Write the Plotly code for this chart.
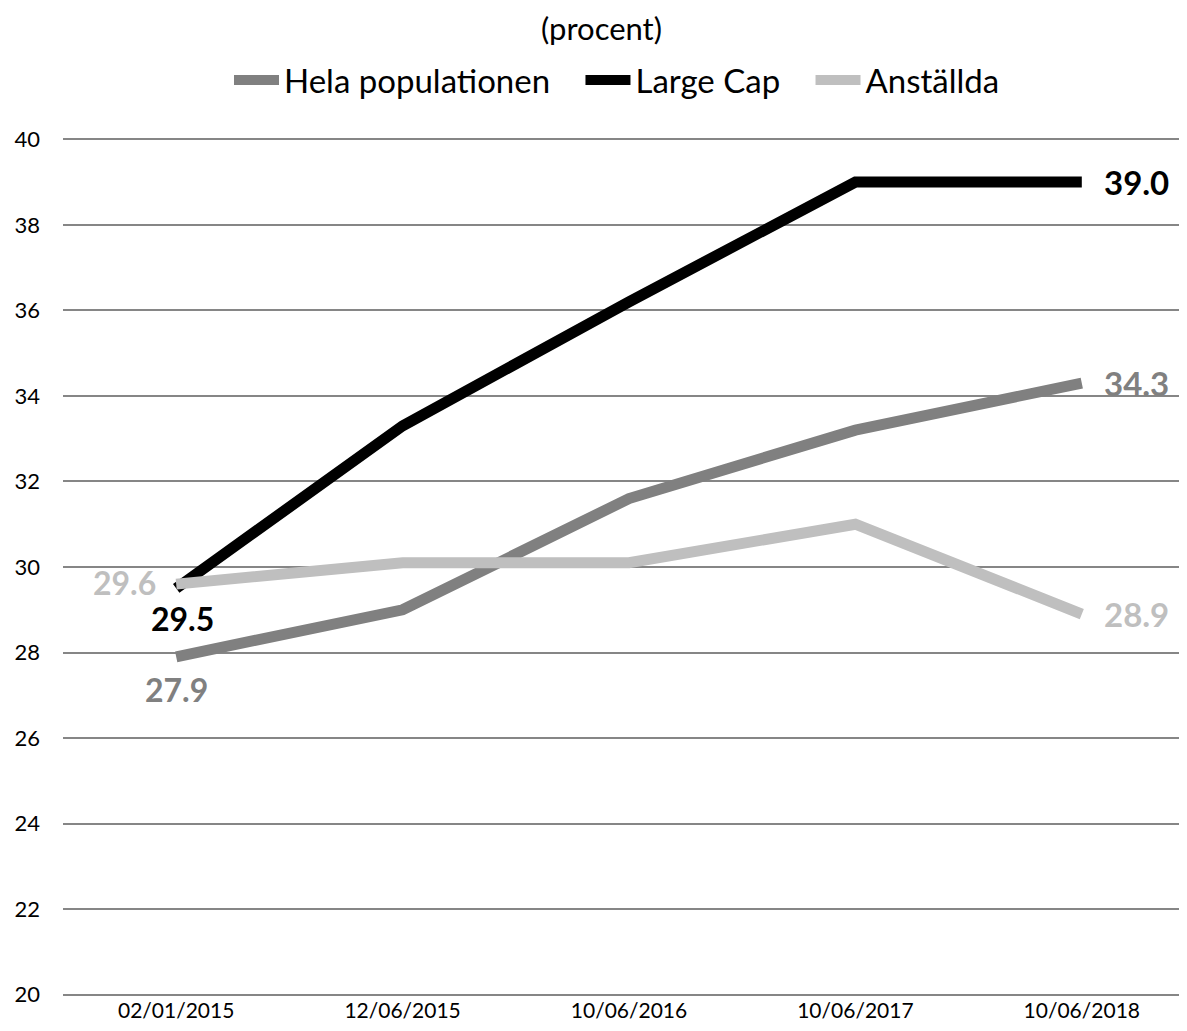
import plotly.graph_objects as go

categories = ["02/01/2015", "12/06/2015", "10/06/2016", "10/06/2017", "10/06/2018"]
hela = [27.9, 29.0, 31.6, 33.2, 34.3]
large_cap = [29.5, 33.3, 36.2, 39.0, 39.0]
anstallda = [29.6, 30.1, 30.1, 31.0, 28.9]
y_ticks = [20, 22, 24, 26, 28, 30, 32, 34, 36, 38, 40]

FONT = "Lato"
PAD = "\u00a0" * 3
series = [
    ("Hela populationen", hela, "#808080"),
    ("Large Cap", large_cap, "#000000"),
    ("Anställda", anstallda, "#bfbfbf"),
]

fig = go.Figure()
for i, (name, vals, col) in enumerate(series):
    fig.add_trace(go.Scatter(
        x=categories, y=vals, name=name + (PAD if i < len(series) - 1 else ""),
        mode="lines", line=dict(color=col, width=11),
    ))

first_cfg = {
    "Hela populationen": dict(xanchor="center", yanchor="top", xshift=0, yshift=-11),
    "Large Cap": dict(xanchor="center", yanchor="top", xshift=6, yshift=-9),
    "Anställda": dict(xanchor="right", yanchor="middle", xshift=-18, yshift=2),
}
for name, vals, col in series:
    cfg = first_cfg[name]
    fig.add_annotation(x=categories[0], y=vals[0], text=f"<b>{vals[0]:.1f}</b>",
                       showarrow=False, font=dict(family=FONT, size=32, color=col),
                       xanchor=cfg["xanchor"], yanchor=cfg["yanchor"],
                       xshift=cfg["xshift"], yshift=cfg["yshift"])
    fig.add_annotation(x=categories[-1], y=vals[-1], text=f"<b>{vals[-1]:.1f}</b>",
                       showarrow=False, font=dict(family=FONT, size=33, color=col),
                       xanchor="left", yanchor="middle", xshift=20, yshift=0)

fig.update_layout(
    width=1187, height=1031,
    margin=dict(l=55, r=0, t=130, b=43),
    paper_bgcolor="white", plot_bgcolor="white",
    font=dict(family=FONT, size=21, color="#000000"),
    title=dict(text="(procent)", x=0.5, xanchor="center", y=0.9796, yanchor="middle",
               font=dict(family=FONT, size=31, color="#000000")),
    legend=dict(orientation="h", x=0.4894, xanchor="center", y=1.0676, yanchor="middle",
                font=dict(family=FONT, size=33, color="#000000"),
                itemwidth=45, tracegroupgap=0),
    showlegend=True,
)
fig.update_xaxes(type="category", range=[-0.5, 4.5], showgrid=False, zeroline=False,
                 showline=False, ticks="", tickfont=dict(family=FONT, size=21))
fig.update_yaxes(range=[19.97, 40.03], tickvals=y_ticks, showgrid=True, gridcolor="#868686",
                 gridwidth=2, zeroline=False, showline=False, ticks="",
                 ticklabelstandoff=22, tickfont=dict(family=FONT, size=22))

fig.write_html("out.html")
